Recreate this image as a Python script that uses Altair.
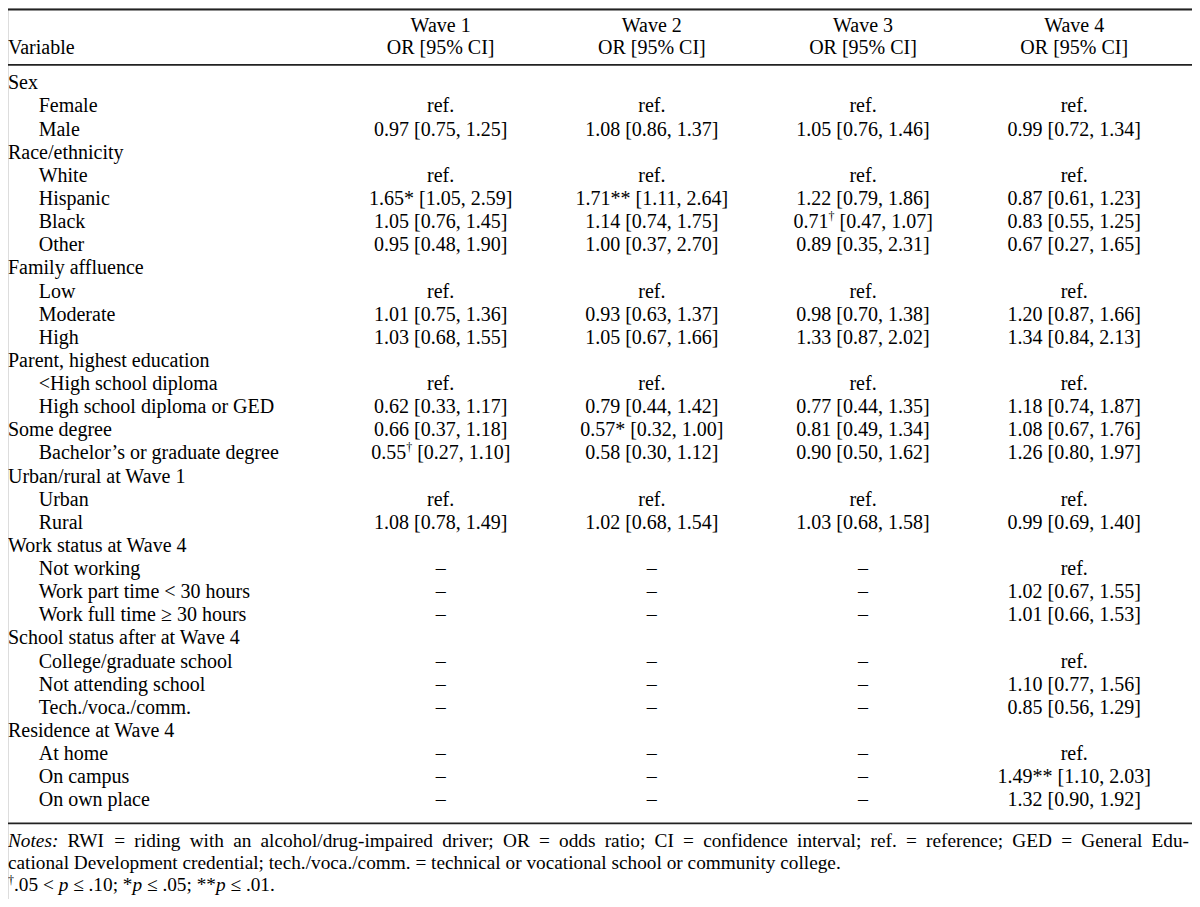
import altair as alt
import pandas as pd

# ---------------- data ----------------
labels = ["Sex", "Female", "Male", "Race/ethnicity", "White", "Hispanic", "Black", "Other",
          "Family affluence", "Low", "Moderate", "High",
          "Parent, highest education", "<High school diploma", "High school diploma or GED",
          "Some degree", "Bachelor’s or graduate degree",
          "Urban/rural at Wave 1", "Urban", "Rural",
          "Work status at Wave 4", "Not working", "Work part time < 30 hours", "Work full time ≥ 30 hours",
          "School status after at Wave 4", "College/graduate school", "Not attending school", "Tech./voca./comm.",
          "Residence at Wave 4", "At home", "On campus", "On own place"]
indent = [0, 1, 1, 0, 1, 1, 1, 1, 0, 1, 1, 1, 0, 1, 1, 0, 1, 0, 1, 1, 0, 1, 1, 1, 0, 1, 1, 1, 0, 1, 1, 1]

D = "–"
wave1 = ["", "ref.", "0.97 [0.75, 1.25]", "", "ref.", "1.65* [1.05, 2.59]", "1.05 [0.76, 1.45]", "0.95 [0.48, 1.90]",
         "", "ref.", "1.01 [0.75, 1.36]", "1.03 [0.68, 1.55]",
         "", "ref.", "0.62 [0.33, 1.17]", "0.66 [0.37, 1.18]", "0.55† [0.27, 1.10]",
         "", "ref.", "1.08 [0.78, 1.49]",
         "", D, D, D, "", D, D, D, "", D, D, D]
wave2 = ["", "ref.", "1.08 [0.86, 1.37]", "", "ref.", "1.71** [1.11, 2.64]", "1.14 [0.74, 1.75]", "1.00 [0.37, 2.70]",
         "", "ref.", "0.93 [0.63, 1.37]", "1.05 [0.67, 1.66]",
         "", "ref.", "0.79 [0.44, 1.42]", "0.57* [0.32, 1.00]", "0.58 [0.30, 1.12]",
         "", "ref.", "1.02 [0.68, 1.54]",
         "", D, D, D, "", D, D, D, "", D, D, D]
wave3 = ["", "ref.", "1.05 [0.76, 1.46]", "", "ref.", "1.22 [0.79, 1.86]", "0.71† [0.47, 1.07]", "0.89 [0.35, 2.31]",
         "", "ref.", "0.98 [0.70, 1.38]", "1.33 [0.87, 2.02]",
         "", "ref.", "0.77 [0.44, 1.35]", "0.81 [0.49, 1.34]", "0.90 [0.50, 1.62]",
         "", "ref.", "1.03 [0.68, 1.58]",
         "", D, D, D, "", D, D, D, "", D, D, D]
wave4 = ["", "ref.", "0.99 [0.72, 1.34]", "", "ref.", "0.87 [0.61, 1.23]", "0.83 [0.55, 1.25]", "0.67 [0.27, 1.65]",
         "", "ref.", "1.20 [0.87, 1.66]", "1.34 [0.84, 2.13]",
         "", "ref.", "1.18 [0.74, 1.87]", "1.08 [0.67, 1.76]", "1.26 [0.80, 1.97]",
         "", "ref.", "0.99 [0.69, 1.40]",
         "", "ref.", "1.02 [0.67, 1.55]", "1.01 [0.66, 1.53]",
         "", "ref.", "1.10 [0.77, 1.56]", "0.85 [0.56, 1.29]",
         "", "ref.", "1.49** [1.10, 2.03]", "1.32 [0.90, 1.92]"]

waves = ["Wave 1", "Wave 2", "Wave 3", "Wave 4"]
subhead = "OR [95% CI]"
stub_head = "Variable"

note1 = ("Notes: RWI = riding with an alcohol/drug-impaired driver; OR = odds ratio; CI = confidence interval; "
         "ref. = reference; GED = General Edu-")
note2 = "cational Development credential; tech./voca./comm. = technical or vocational school or community college."
# (text, style) pieces of the last note line: "sup" = superscript, "it" = italic
note3 = [("†", "sup"), (".05 < ", "n"), ("p", "it"), (" ≤ .10; *", "n"), ("p", "it"),
         (" ≤ .05; **", "n"), ("p", "it"), (" ≤ .01.", "n")]

# ---------------- layout ----------------
W, H = 1184, 891
def X(r):
    return (r - 1) * 0.99
def Y(r):
    return (r - 1) * 0.98 + 1

FONT = "Liberation Serif"
FS = 20
NFS = 19.3

# Times / Liberation Serif advance widths (per 1000 em), used to lay out the note pieces
_TW = {" ": 250, "!": 333, "*": 500, "+": 564, ",": 250, "-": 333, ".": 250, "/": 278, ":": 278, ";": 278,
       "<": 564, "=": 564, ">": 564, "≤": 549, "†": 500, "[": 333, "]": 333, "(": 333, ")": 333,
       "A": 722, "B": 667, "C": 667, "D": 722, "E": 611, "F": 556, "G": 722, "H": 722, "I": 333, "J": 389,
       "K": 722, "L": 611, "M": 889, "N": 722, "O": 722, "P": 556, "Q": 722, "R": 667, "S": 556, "T": 611,
       "U": 722, "V": 722, "W": 944, "X": 722, "Y": 722, "Z": 611,
       "a": 444, "b": 500, "c": 444, "d": 500, "e": 444, "f": 333, "g": 500, "h": 500, "i": 278, "j": 278,
       "k": 500, "l": 278, "m": 778, "n": 500, "o": 500, "p": 500, "q": 500, "r": 333, "s": 389, "t": 278,
       "u": 500, "v": 500, "w": 722, "x": 500, "y": 500, "z": 444}
_TWI = {"N": 667, "o": 500, "t": 278, "e": 444, "s": 389, ":": 333, "p": 500}
def tw(s, size, italic=False):
    tot = 0
    for ch in s:
        if italic and ch in _TWI:
            tot += _TWI[ch]
        else:
            tot += _TW.get(ch, 500)
    return tot * size / 1000.0

rows = pd.DataFrame({"row": list(range(len(labels))), "label": labels, "indent": indent})

plain, dag = [], []
for j, col in enumerate([wave1, wave2, wave3, wave4]):
    for i, t in enumerate(col):
        if not t:
            continue
        if "†" in t:
            num, rest = t.split("†")
            dag.append({"row": i, "ci": j, "num": num, "rest": rest.strip()})
        else:
            plain.append({"row": i, "ci": j, "text": t})
plain = pd.DataFrame(plain)
dag = pd.DataFrame(dag)
hdr = pd.DataFrame({"ci": list(range(4)), "wave": waves, "sub": [subhead] * 4})
one = pd.DataFrame({"k": [0]})

yscale = alt.Scale(domain=[0, 31], range=[Y(83), Y(83 + 31 * 23.6)])
xscale = alt.Scale(domain=[0, 3], range=[X(438), X(1078)])
yenc = alt.Y("row:Q", scale=yscale, axis=None)
xenc = alt.X("ci:Q", scale=xscale, axis=None)

T = dict(font=FONT, fontSize=FS, color="black", baseline="alphabetic")

layers = []
# stub column
layers.append(alt.Chart(rows).transform_filter("datum.indent == 0").mark_text(align="left", **T)
              .encode(x=alt.value(X(1)), y=yenc, text="label:N"))
layers.append(alt.Chart(rows).transform_filter("datum.indent == 1").mark_text(align="left", **T)
              .encode(x=alt.value(X(32)), y=yenc, text="label:N"))
# data cells
layers.append(alt.Chart(plain).mark_text(align="center", **T).encode(x=xenc, y=yenc, text="text:N"))
# cells with superscript dagger
layers.append(alt.Chart(dag).mark_text(align="left", dx=-69.5, **T).encode(x=xenc, y=yenc, text="num:N"))
layers.append(alt.Chart(dag).mark_text(align="left", dx=-34.5, dy=-8, font=FONT, fontSize=12, color="black",
                                       baseline="alphabetic")
              .encode(x=xenc, y=yenc, text=alt.value("†")))
layers.append(alt.Chart(dag).mark_text(align="left", dx=-23.5, **T).encode(x=xenc, y=yenc, text="rest:N"))
# header
layers.append(alt.Chart(hdr).mark_text(align="center", **T).encode(x=xenc, y=alt.value(Y(24)), text="wave:N"))
layers.append(alt.Chart(hdr).mark_text(align="center", **T).encode(x=xenc, y=alt.value(Y(47)), text="sub:N"))
layers.append(alt.Chart(one).mark_text(align="left", **T)
              .encode(x=alt.value(X(1)), y=alt.value(Y(47)), text=alt.value(stub_head)))
# rules
for yy, sw in [(1.5, 2.2), (58, 1.6), (832, 1.6)]:
    layers.append(alt.Chart(one).mark_rule(color="#222222", strokeWidth=sw)
                  .encode(x=alt.value(0), x2=alt.value(W), y=alt.value(Y(yy))))

# notes
def note(txt, x, y, italic=False, size=NFS, dy=0):
    kw = dict(font=FONT, fontSize=size, color="black", baseline="alphabetic", align="left")
    if italic:
        kw["fontStyle"] = "italic"
    return alt.Chart(one).mark_text(dy=dy, **kw).encode(x=alt.value(x), y=alt.value(Y(y)), text=alt.value(txt))

# line 1: justified between the left edge and the right edge
words = note1.split(" ")
wid = [tw(w, NFS, italic=(k == 0)) for k, w in enumerate(words)]
left, right = X(1), X(1194)
gap = (right - left - sum(wid)) / (len(words) - 1)
xx = left
for k, w in enumerate(words):
    layers.append(note(w, xx, 856, italic=(k == 0)))
    xx += wid[k] + gap

layers.append(note(note2, X(1), 879))

# line 3: pieces in sequence
xx = X(1)
for txt, sty in note3:
    lead = len(txt) - len(txt.lstrip(" "))
    body = txt.strip(" ")
    if sty == "sup":
        layers.append(note(body, xx, 901, size=12, dy=-7))
        xx += tw(txt, 12)
    else:
        layers.append(note(body, xx + tw(" " * lead, NFS), 901, italic=(sty == "it")))
        xx += tw(txt, NFS, italic=(sty == "it"))

chart = alt.layer(*layers).properties(
    width=W, height=H, padding=0, autosize=alt.AutoSizeParams(type="none")
).configure_view(stroke=None).configure(background="white")

chart.save("out.html", embed_options={"renderer": "svg", "actions": False})
